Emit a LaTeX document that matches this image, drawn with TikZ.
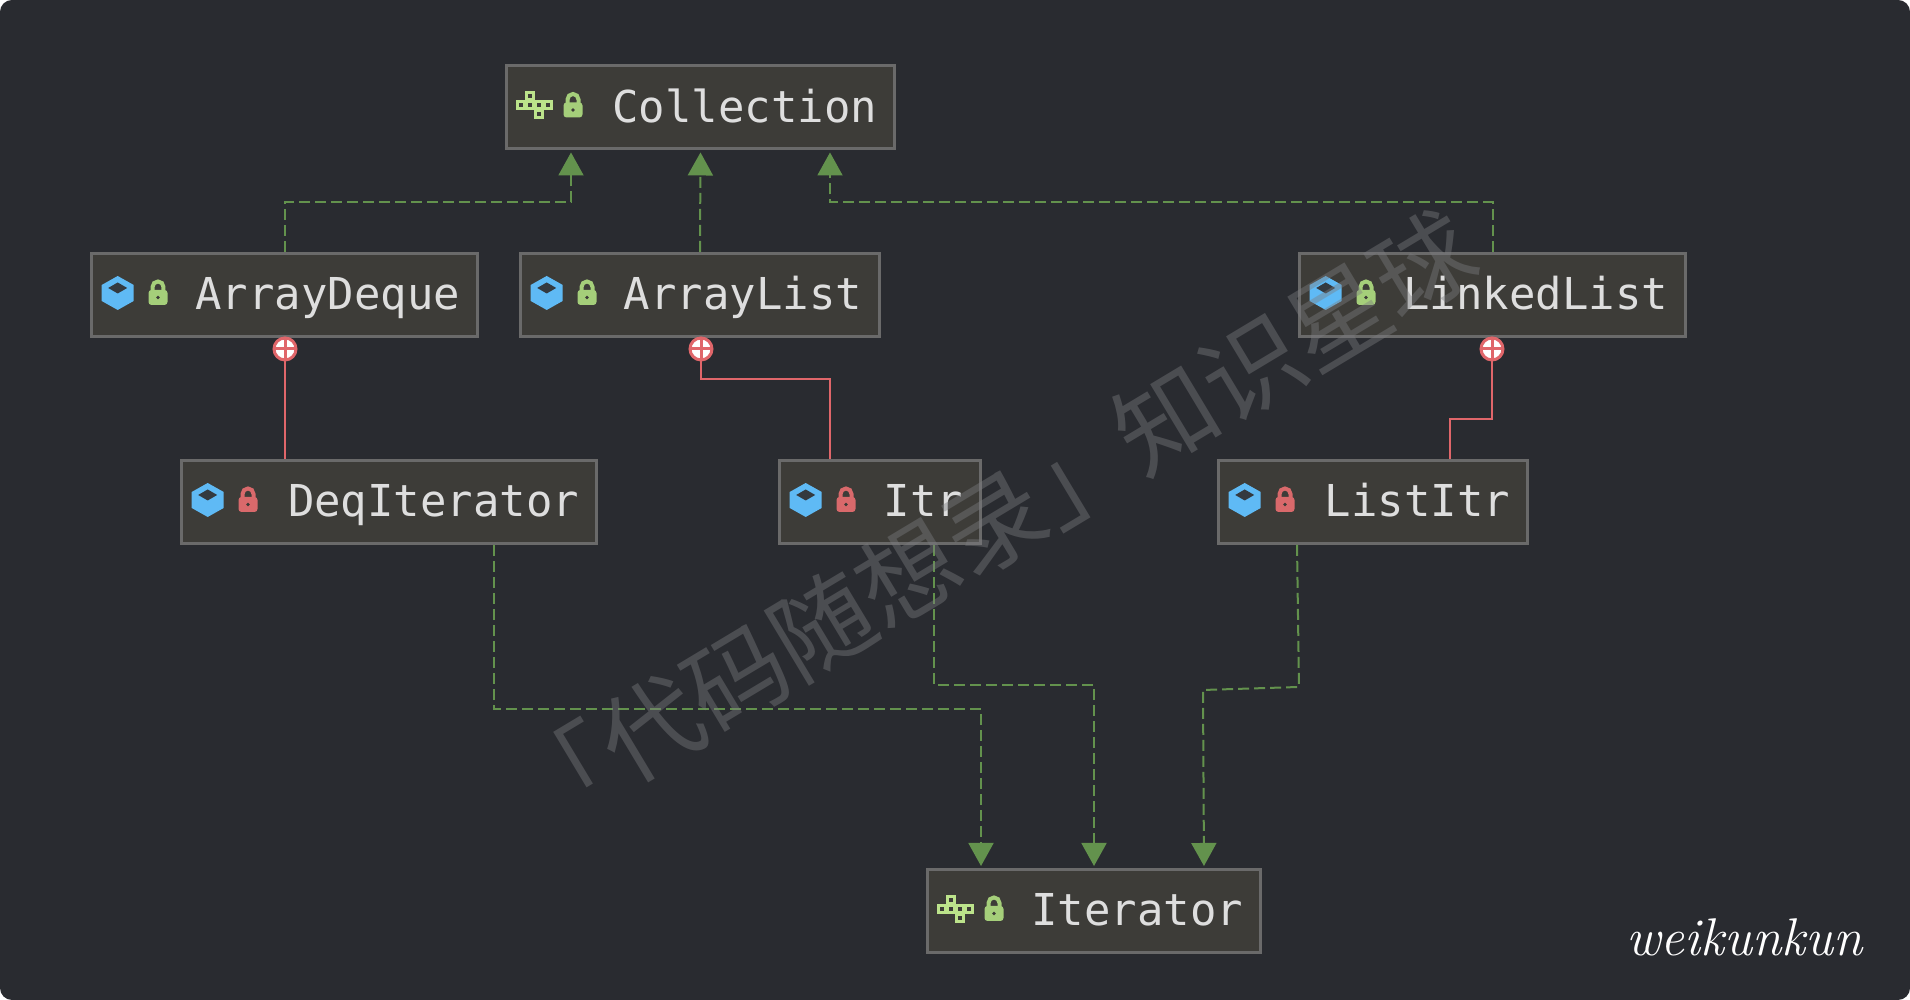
\documentclass[tikz,border=0pt]{standalone}
\usepackage{xcolor}
\usepackage{fontspec}
\setmonofont{DejaVu Sans Mono}
\newfontfamily\cjkfont{Noto Sans CJK SC}
\usetikzlibrary{arrows.meta}
\definecolor{panelbg}{HTML}{292B30}
\definecolor{boxfill}{HTML}{3D3C38}
\definecolor{boxline}{HTML}{6A6A6A}
\definecolor{boxtext}{HTML}{DEDEDE}
\definecolor{implgreen}{HTML}{63924D}
\definecolor{nestred}{HTML}{E0666A}
\definecolor{iconblue}{HTML}{5FBAF5}
\definecolor{icondark}{HTML}{343A40}
\definecolor{lockgreen}{HTML}{A5CF7A}
\definecolor{lockred}{HTML}{D9696B}
\definecolor{ifacegreen}{HTML}{BCE38B}
\definecolor{markgray}{HTML}{7C7D80}

\begin{document}
\begin{tikzpicture}[
  >={Triangle[length=2.3mm,width=2.5mm]},
  box/.style={rectangle, draw=boxline, fill=boxfill, line width=0.3mm, minimum width=#1 cm, minimum height=0.83cm,
    inner xsep=0.175cm, inner ysep=0pt, text width=#1 cm-0.35cm, align=right, text=boxtext,
    text height=0.36cm, text depth=0.06cm, font=\ttfamily\fontsize{12.5}{15}\selectfont},
  impl/.style={->, draw=implgreen, line width=0.2mm, dash pattern=on 1.1mm off 0.5mm, shorten >=0.2mm},
  nest/.style={draw=nestred, line width=0.2mm},
  plusmark/.style={circle, draw=nestred, fill=white, line width=0.3mm, minimum size=2.2mm, inner sep=0pt,
    path picture={\draw[nestred, line width=0.3mm] (path picture bounding box.north) -- (path picture bounding box.south)
      (path picture bounding box.west) -- (path picture bounding box.east);}},
  pics/classicon/.style={code={
    \fill[iconblue] (0,0.17) -- (0.16,0.08) -- (0.16,-0.08) -- (0,-0.17) -- (-0.16,-0.08) -- (-0.16,0.08) -- cycle;
    \fill[icondark] (0,0.105) -- (0.095,0.05) -- (0,-0.005) -- (-0.095,0.05) -- cycle;
  }},
  pics/lockicon/.style={code={
    \draw[#1, line width=0.4mm] (-0.055,0) -- (-0.055,0.06) arc (180:0:0.055) -- (0.055,0);
    \fill[#1, rounded corners=0.3mm] (-0.095,-0.12) rectangle (0.095,0.03);
    \fill[boxfill] (0,-0.045) circle (0.018);
  }},
  pics/ifaceicon/.style={code={
    \foreach \cx/\cy in {-0.045/0.09, -0.135/0, -0.045/0, 0.045/0, 0.135/0, 0.045/-0.09}
      \draw[ifacegreen, fill=boxfill, line width=0.3mm] (\cx-0.035,\cy-0.035) rectangle (\cx+0.035,\cy+0.035);
  }}
]
  \useasboundingbox (0,0) rectangle (19.1,10);
  \fill[panelbg, rounded corners=1.2mm] (0,0) rectangle (19.1,10);

  \node[box=3.88] (coll) at (7.005,8.925) {Collection};
  \node[box=3.86] (deque) at (2.845,7.05) {ArrayDeque};
  \node[box=3.59] (alist) at (7.00,7.05) {ArrayList};
  \node[box=3.86] (llist) at (14.925,7.05) {LinkedList};
  \node[box=4.15] (deqitr) at (3.89,4.98) {DeqIterator};
  \node[box=2.01] (itr) at (8.80,4.98) {Itr};
  \node[box=3.09] (litr) at (13.73,4.98) {ListItr};
  \node[box=3.33] (iter) at (10.94,0.89) {Iterator};

  \foreach \n in {deque,alist,llist,deqitr,itr,litr}
    \pic at ([xshift=0.277cm,yshift=0.02cm]\n.west) {classicon};
  \foreach \n in {coll,iter}
    \pic at ([xshift=0.29cm,yshift=0.02cm]\n.west) {ifaceicon};
  \foreach \n in {coll,deque,alist,llist,iter}
    \pic at ([xshift=0.68cm,yshift=0.02cm]\n.west) {lockicon=lockgreen};
  \foreach \n in {deqitr,itr,litr}
    \pic at ([xshift=0.68cm,yshift=0.02cm]\n.west) {lockicon=lockred};

  \node[plusmark] (m1) at (2.85,6.51) {};
  \node[plusmark] (m2) at (7.01,6.51) {};
  \node[plusmark] (m3) at (14.92,6.51) {};

  \draw[impl] (deque.north) -- ++(0,0.495) -| ([xshift=-1.295cm]coll.south);
  \draw[impl] (alist.north) -- (coll.south);
  \draw[impl] (llist.north) -- ++(0,0.495) -| ([xshift=1.295cm]coll.south);

  \draw[nest] (m1) -- (m1 |- deqitr.north);
  \draw[nest] (m2) -- ++(0,-0.30) -| ([xshift=-0.5cm]itr.north);
  \draw[nest] (m3) -- ++(0,-0.70) -| ([xshift=0.77cm]litr.north);

  \draw[impl] ([xshift=1.05cm]deqitr.south) -- ++(0,-1.64) -| ([xshift=-1.13cm]iter.north);
  \draw[impl] ([xshift=0.54cm]itr.south) -- ++(0,-1.40) -| (iter.north);
  \draw[impl] ([xshift=-0.76cm]litr.south) -- ++(0.02,-1.42) -- ++(-0.96,-0.03) -- ([xshift=1.10cm]iter.north);

  \node[rotate=31, text=markgray, opacity=0.42, font=\cjkfont\fontsize{28.5}{30}\selectfont] (wm) at (9.94,4.78) {「代码随想录」知识星球};
  \node[anchor=base east, text=white, font=\itshape\fontsize{15.1}{17}\selectfont] (sign) at (18.75,0.44) {weikunkun};
\end{tikzpicture}
\end{document}
